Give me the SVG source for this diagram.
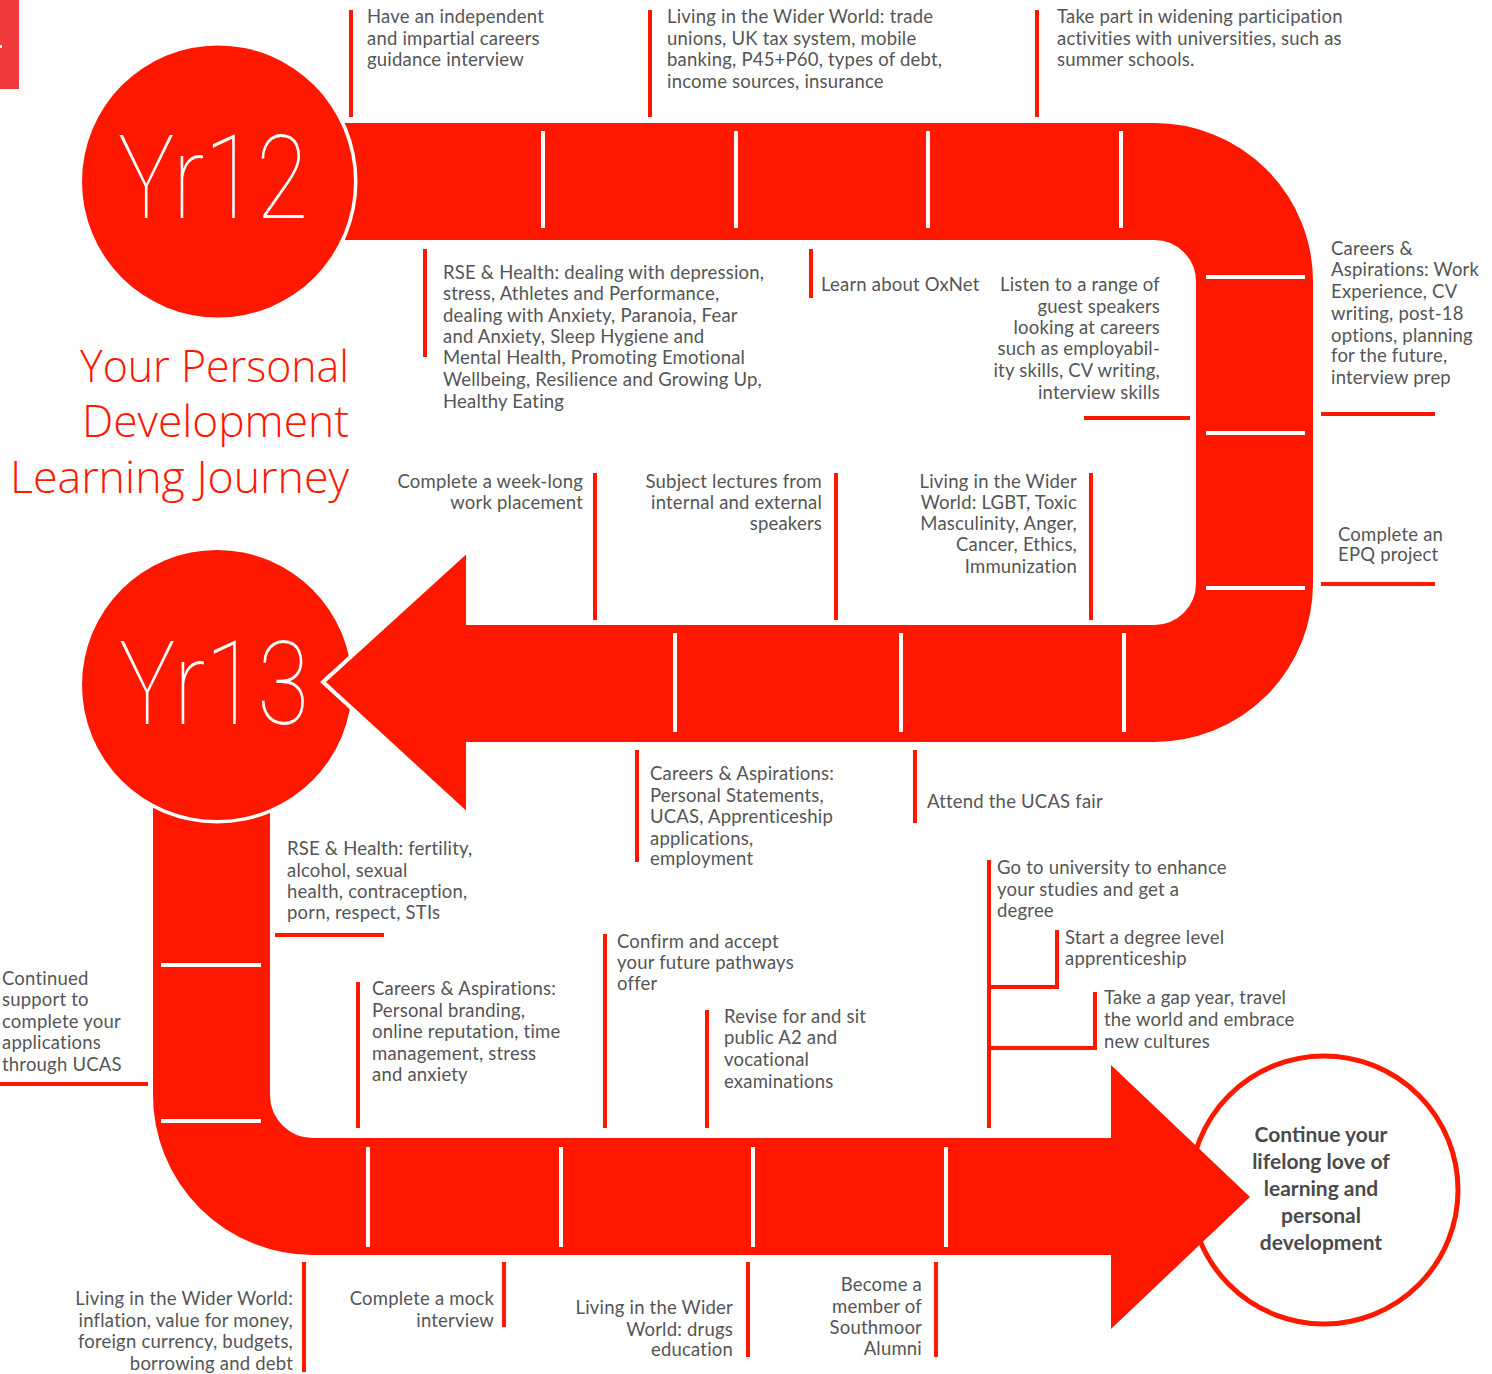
<svg xmlns="http://www.w3.org/2000/svg" width="1492" height="1374" viewBox="0 0 1492 1374">
<style>
.t{font-family:Lato,"Noto Sans","Liberation Sans",sans-serif;font-size:18.5px;letter-spacing:0.2px;fill:#555}
.r{text-anchor:end}
.m{stroke:#ff1800;stroke-width:4;fill:none}
.tick{stroke:#fff;stroke-width:4}
.band{fill:none;stroke:#ff1800;stroke-width:117}
.red{fill:#ff1800}
.yr{font-family:Roboto,Lato,"Liberation Sans",sans-serif;font-weight:100;font-size:116px;fill:#fff}
.title{font-family:"Open Sans","Liberation Sans",sans-serif;font-weight:300;font-size:44px;fill:#ff1800;text-anchor:end}
.end{font-family:Lato,"Liberation Sans",sans-serif;font-weight:700;font-size:21px;fill:#4a4a4a;text-anchor:middle}
</style>
<rect width="1492" height="1374" fill="#fff"/>
<g id="corner-tab"><rect x="0" y="0" width="19" height="89" fill="#f0393a"/><rect x="0" y="45" width="2" height="3" fill="#fff"/></g>

<g id="track">
<path class="band" d="M211.5,700 V1095 A101.5,101.5 0 0 0 313,1196.5 H1113"/>
<g id="yr13"><circle cx="217" cy="685" r="138.5" fill="#fff"/><circle cx="217" cy="685" r="135" class="red"/>
<text class="yr" x="119" y="724" textLength="190" lengthAdjust="spacingAndGlyphs">Yr13</text></g>
<polygon points="323,682 468,550 468,815" class="red" stroke="#fff" stroke-width="4"/>
<path class="band" d="M345,181.5 H1154.5 A100,100 0 0 1 1254.5,281.5 V583.5 A100,100 0 0 1 1154.5,683.5 H464"/>
<g id="yr12"><circle cx="218" cy="181.5" r="139.5" fill="#fff"/><circle cx="218" cy="181.5" r="136" class="red"/>
<text class="yr" x="118" y="218" textLength="190" lengthAdjust="spacingAndGlyphs">Yr12</text></g>
<g id="end"><circle cx="1324" cy="1190" r="134" fill="#fff" stroke="#ff1800" stroke-width="5"/>
<polygon points="1111,1065 1250,1197 1111,1329" class="red"/>
<text class="end" x="1321"><tspan x="1321" y="1142">Continue your</tspan><tspan x="1321" y="1169">lifelong love of</tspan><tspan x="1321" y="1196">learning and</tspan><tspan x="1321" y="1223">personal</tspan><tspan x="1321" y="1250">development</tspan></text></g>
<g id="ticks" class="tick">
<line x1="543" y1="131" x2="543" y2="228"/><line x1="736" y1="131" x2="736" y2="228"/><line x1="928" y1="131" x2="928" y2="228"/><line x1="1121" y1="131" x2="1121" y2="228"/>
<line x1="1206" y1="277" x2="1305" y2="277"/><line x1="1206" y1="433" x2="1305" y2="433"/><line x1="1206" y1="588" x2="1305" y2="588"/>
<line x1="675" y1="633" x2="675" y2="732"/><line x1="901" y1="633" x2="901" y2="732"/><line x1="1124" y1="633" x2="1124" y2="732"/>
<line x1="161" y1="965" x2="261" y2="965"/><line x1="161" y1="1121" x2="261" y2="1121"/>
<line x1="368" y1="1147" x2="368" y2="1247"/><line x1="561" y1="1147" x2="561" y2="1247"/><line x1="753" y1="1147" x2="753" y2="1247"/><line x1="946" y1="1147" x2="946" y2="1247"/>
</g>
</g>

<g id="title"><text class="title"><tspan x="349" y="382" textLength="269" lengthAdjust="spacingAndGlyphs">Your Personal</tspan><tspan x="349" y="437" textLength="267" lengthAdjust="spacingAndGlyphs">Development</tspan><tspan x="349" y="493" textLength="339" lengthAdjust="spacingAndGlyphs">Learning Journey</tspan></text></g>

<g id="connectors" class="m">
<line x1="351" y1="10" x2="351" y2="117"/>
<line x1="650" y1="10" x2="650" y2="117"/>
<line x1="1037" y1="10" x2="1037" y2="117"/>
<line x1="425" y1="249" x2="425" y2="357"/>
<line x1="811" y1="249" x2="811" y2="298"/>
<line x1="1084" y1="418" x2="1190" y2="418"/>
<line x1="1321" y1="414" x2="1435" y2="414"/>
<line x1="1321" y1="584" x2="1435" y2="584"/>
<line x1="595" y1="473" x2="595" y2="620"/>
<line x1="836" y1="473" x2="836" y2="620"/>
<line x1="1091" y1="473" x2="1091" y2="620"/>
<line x1="637" y1="750" x2="637" y2="862"/>
<line x1="915" y1="750" x2="915" y2="823"/>
<line x1="275" y1="935" x2="384" y2="935"/>
<line x1="0" y1="1084" x2="148" y2="1084"/>
<line x1="358" y1="982" x2="358" y2="1128"/>
<line x1="605" y1="934" x2="605" y2="1128"/>
<line x1="707" y1="1010" x2="707" y2="1128"/>
<line x1="989" y1="860" x2="989" y2="1128"/>
<polyline points="989,987 1057,987 1057,930"/>
<polyline points="989,1048 1095,1048 1095,992"/>
<line x1="304" y1="1262" x2="304" y2="1372"/>
<line x1="504" y1="1262" x2="504" y2="1327"/>
<line x1="748" y1="1262" x2="748" y2="1357"/>
<line x1="936" y1="1262" x2="936" y2="1357"/>
</g>

<g id="n1"><text class="t"><tspan x="367" y="23">Have an independent</tspan><tspan x="367" y="45">and impartial careers</tspan><tspan x="367" y="66">guidance interview</tspan></text></g>
<g id="n2"><text class="t"><tspan x="667" y="23">Living in the Wider World: trade</tspan><tspan x="667" y="45">unions, UK tax system, mobile</tspan><tspan x="667" y="66">banking, P45+P60, types of debt,</tspan><tspan x="667" y="88">income sources, insurance</tspan></text></g>
<g id="n3"><text class="t"><tspan x="1057" y="23">Take part in widening participation</tspan><tspan x="1057" y="45">activities with universities, such as</tspan><tspan x="1057" y="66">summer schools.</tspan></text></g>
<g id="n4"><text class="t"><tspan x="443" y="279">RSE &amp; Health: dealing with depression,</tspan><tspan x="443" y="300">stress, Athletes and Performance,</tspan><tspan x="443" y="322">dealing with Anxiety, Paranoia, Fear</tspan><tspan x="443" y="343">and Anxiety, Sleep Hygiene and</tspan><tspan x="443" y="364">Mental Health, Promoting Emotional</tspan><tspan x="443" y="386">Wellbeing, Resilience and Growing Up,</tspan><tspan x="443" y="408">Healthy Eating</tspan></text></g>
<g id="n5"><text class="t" x="821" y="291">Learn about OxNet</text></g>
<g id="n6"><text class="t r"><tspan x="1160" y="291">Listen to a range of</tspan><tspan x="1160" y="313">guest speakers</tspan><tspan x="1160" y="334">looking at careers</tspan><tspan x="1160" y="355">such as employabil-</tspan><tspan x="1160" y="377">ity skills, CV writing,</tspan><tspan x="1160" y="399">interview skills</tspan></text></g>
<g id="n7"><text class="t"><tspan x="1331" y="255">Careers &amp;</tspan><tspan x="1331" y="276">Aspirations: Work</tspan><tspan x="1331" y="298">Experience, CV</tspan><tspan x="1331" y="320">writing, post-18</tspan><tspan x="1331" y="342">options, planning</tspan><tspan x="1331" y="362">for the future,</tspan><tspan x="1331" y="384">interview prep</tspan></text></g>
<g id="n8"><text class="t"><tspan x="1338" y="541">Complete an</tspan><tspan x="1338" y="561">EPQ project</tspan></text></g>
<g id="n9"><text class="t r"><tspan x="583" y="488">Complete a week-long</tspan><tspan x="583" y="509">work placement</tspan></text></g>
<g id="n10"><text class="t r"><tspan x="822" y="488">Subject lectures from</tspan><tspan x="822" y="509">internal and external</tspan><tspan x="822" y="530">speakers</tspan></text></g>
<g id="n11"><text class="t r"><tspan x="1077" y="488">Living in the Wider</tspan><tspan x="1077" y="509">World: LGBT, Toxic</tspan><tspan x="1077" y="530">Masculinity, Anger,</tspan><tspan x="1077" y="551">Cancer, Ethics,</tspan><tspan x="1077" y="573">Immunization</tspan></text></g>
<g id="n12"><text class="t"><tspan x="650" y="780">Careers &amp; Aspirations:</tspan><tspan x="650" y="802">Personal Statements,</tspan><tspan x="650" y="823">UCAS, Apprenticeship</tspan><tspan x="650" y="845">applications,</tspan><tspan x="650" y="865">employment</tspan></text></g>
<g id="n13"><text class="t" x="927" y="808">Attend the UCAS fair</text></g>
<g id="n14"><text class="t"><tspan x="287" y="855">RSE &amp; Health: fertility,</tspan><tspan x="287" y="877">alcohol, sexual</tspan><tspan x="287" y="898">health, contraception,</tspan><tspan x="287" y="919">porn, respect, STIs</tspan></text></g>
<g id="n15"><text class="t"><tspan x="2" y="985">Continued</tspan><tspan x="2" y="1006">support to</tspan><tspan x="2" y="1028">complete your</tspan><tspan x="2" y="1049">applications</tspan><tspan x="2" y="1071">through UCAS</tspan></text></g>
<g id="n16"><text class="t"><tspan x="372" y="995">Careers &amp; Aspirations:</tspan><tspan x="372" y="1017">Personal branding,</tspan><tspan x="372" y="1038">online reputation, time</tspan><tspan x="372" y="1060">management, stress</tspan><tspan x="372" y="1081">and anxiety</tspan></text></g>
<g id="n17"><text class="t"><tspan x="617" y="948">Confirm and accept</tspan><tspan x="617" y="969">your future pathways</tspan><tspan x="617" y="990">offer</tspan></text></g>
<g id="n18"><text class="t"><tspan x="724" y="1023">Revise for and sit</tspan><tspan x="724" y="1044">public A2 and</tspan><tspan x="724" y="1066">vocational</tspan><tspan x="724" y="1088">examinations</tspan></text></g>
<g id="n19"><text class="t"><tspan x="997" y="874">Go to university to enhance</tspan><tspan x="997" y="896">your studies and get a</tspan><tspan x="997" y="917">degree</tspan></text></g>
<g id="n20"><text class="t"><tspan x="1065" y="944">Start a degree level</tspan><tspan x="1065" y="965">apprenticeship</tspan></text></g>
<g id="n21"><text class="t"><tspan x="1104" y="1004">Take a gap year, travel</tspan><tspan x="1104" y="1026">the world and embrace</tspan><tspan x="1104" y="1048">new cultures</tspan></text></g>
<g id="n22"><text class="t r"><tspan x="293" y="1305">Living in the Wider World:</tspan><tspan x="293" y="1327">inflation, value for money,</tspan><tspan x="293" y="1348">foreign currency, budgets,</tspan><tspan x="293" y="1370">borrowing and debt</tspan></text></g>
<g id="n23"><text class="t r"><tspan x="494" y="1305">Complete a mock</tspan><tspan x="494" y="1327">interview</tspan></text></g>
<g id="n24"><text class="t r"><tspan x="733" y="1314">Living in the Wider</tspan><tspan x="733" y="1336">World: drugs</tspan><tspan x="733" y="1356">education</tspan></text></g>
<g id="n25"><text class="t r"><tspan x="922" y="1291">Become a</tspan><tspan x="922" y="1313">member of</tspan><tspan x="922" y="1334">Southmoor</tspan><tspan x="922" y="1355">Alumni</tspan></text></g>
</svg>
